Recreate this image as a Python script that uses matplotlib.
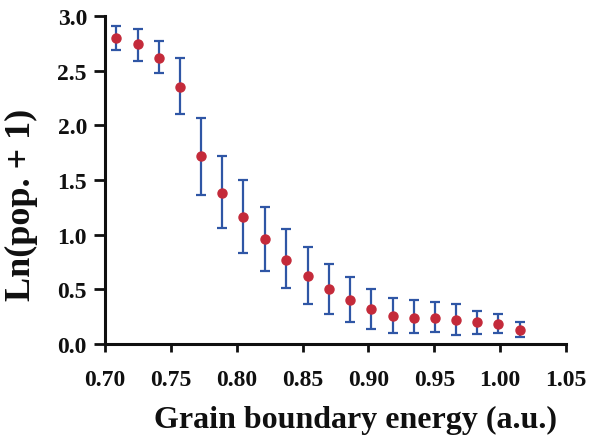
import matplotlib
matplotlib.use("Agg")
import matplotlib.pyplot as plt

energy = [0.7086, 0.7249, 0.7408, 0.7570, 0.7730, 0.7889, 0.8051, 0.8214, 0.8376, 0.8538,
          0.8697, 0.8860, 0.9019, 0.9184, 0.9343, 0.9503, 0.9665, 0.9827, 0.9987, 1.0149]
ln_pop = [2.80, 2.74, 2.62, 2.35, 1.72, 1.38, 1.16, 0.96, 0.77, 0.62,
          0.50, 0.40, 0.32, 0.26, 0.24, 0.24, 0.22, 0.20, 0.18, 0.13]
err_top = [2.91, 2.88, 2.77, 2.62, 2.07, 1.72, 1.50, 1.25, 1.05, 0.89,
           0.73, 0.61, 0.50, 0.42, 0.40, 0.38, 0.37, 0.30, 0.27, 0.20]
err_bot = [2.69, 2.59, 2.48, 2.10, 1.36, 1.06, 0.83, 0.67, 0.51, 0.37,
           0.27, 0.20, 0.14, 0.10, 0.10, 0.11, 0.08, 0.09, 0.10, 0.06]

xticks = [0.70, 0.75, 0.80, 0.85, 0.90, 0.95, 1.00, 1.05]
yticks = [0.0, 0.5, 1.0, 1.5, 2.0, 2.5, 3.0]

plt.rcParams['font.family'] = ['Liberation Serif', 'DejaVu Serif']
plt.rcParams['font.weight'] = 'bold'

fig = plt.figure(figsize=(5.89, 4.39), dpi=100)
ax = fig.add_axes([0.1783, 0.2141, 0.7827, 0.7472])

lower = [v - b for v, b in zip(ln_pop, err_bot)]
upper = [t - v for v, t in zip(ln_pop, err_top)]
ax.errorbar(energy, ln_pop, yerr=[lower, upper], fmt='none', ecolor='#2f56a5',
            elinewidth=1.6, capsize=3.8, capthick=1.6, zorder=2)
ax.plot(energy, ln_pop, 'o', color='#c42a3a', markersize=6.5, zorder=3)

ax.set_xlim(0.70, 1.05)
ax.set_ylim(0.0, 3.0)
ax.set_xticks(xticks)
ax.set_xticklabels([f"{t:.2f}" for t in xticks])
ax.set_yticks(yticks)
ax.set_yticklabels([f"{t:.1f}" for t in yticks])

for s in ['top', 'right']:
    ax.spines[s].set_visible(False)
for s in ['left', 'bottom']:
    ax.spines[s].set_linewidth(2.2)
    ax.spines[s].set_color('#101010')

ax.tick_params(axis='x', direction='out', length=6, width=2, labelsize=17,
               colors='#101010', pad=12)
ax.tick_params(axis='y', direction='out', length=8, width=2, labelsize=17,
               colors='#101010', pad=5)
for lab in ax.get_xticklabels() + ax.get_yticklabels():
    lab.set_fontweight('bold')

ax.set_xlabel('Grain boundary energy (a.u.)', fontsize=23, fontweight='bold',
              color='#101010')
ax.xaxis.set_label_coords(0.544, -0.185)
ax.set_ylabel('Ln(pop. + 1)', fontsize=26, fontweight='bold', color='#101010')
ax.yaxis.set_label_coords(-0.145, 0.427)

fig.savefig('out.png', dpi=100)
